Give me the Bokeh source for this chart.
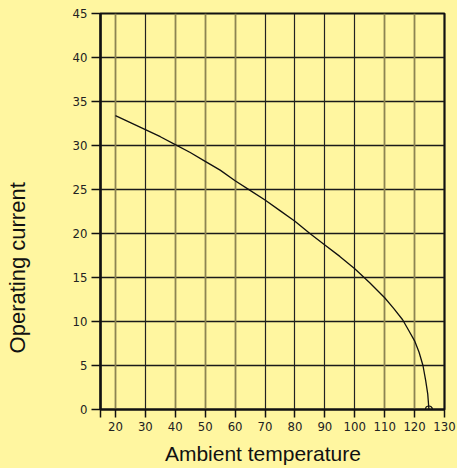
from bokeh.plotting import figure
from bokeh.models import FixedTicker, Grid, Label, Range1d
from bokeh.embed import file_html
from bokeh.resources import INLINE

# ---- data ----
temperature = [20, 25, 30, 35, 40, 45, 50, 55, 60, 65, 70, 75, 80, 85, 90, 95,
               100, 105, 110, 113, 116, 118, 120, 121.5, 122.8, 123.7, 124.4, 124.8]
current = [33.4, 32.6, 31.8, 31.0, 30.1, 29.2, 28.2, 27.2, 26.0, 24.9, 23.8,
           22.6, 21.4, 20.0, 18.7, 17.4, 16.0, 14.4, 12.7, 11.5, 10.2, 9.0,
           7.8, 6.5, 5.0, 3.3, 1.75, 0.0]
x_ticks = [15, 20, 30, 40, 50, 60, 70, 80, 90, 100, 110, 120, 130]
y_ticks = [0, 5, 10, 15, 20, 25, 30, 35, 40, 45]
x_grid_dark = [30, 70, 80, 90, 100]
x_grid_light = [20, 40, 50, 60, 110, 120]
y_grid = [5, 10, 15, 20, 25, 30, 35, 40]
x_title = "Ambient temperature"
y_title = "Operating current"

BG = "#FFF6A0"
TICK_FONT = "'DejaVu Sans Condensed', 'Liberation Sans Narrow', sans-serif"

p = figure(width=457, height=468, output_backend="svg", toolbar_location=None,
           x_range=Range1d(15, 130), y_range=Range1d(0, 45),
           background_fill_color=BG, border_fill_color=BG,
           min_border_left=100, min_border_right=13,
           min_border_top=13, min_border_bottom=59)
p.outline_line_color = "#111111"
p.outline_line_width = 2.2
p.grid.visible = False

for ax, ticks in ((p.xaxis, x_ticks), (p.yaxis, y_ticks)):
    ax.ticker = FixedTicker(ticks=ticks)
    ax.minor_tick_line_color = None
    ax.major_tick_in = 0
    ax.axis_line_width = 2.2
    ax.axis_line_color = "#111111"
    ax.major_tick_line_width = 1.5
    ax.major_tick_line_color = "#111111"
    ax.major_label_text_font = TICK_FONT
    ax.major_label_text_font_size = "13px"
    ax.major_label_text_color = "#222222"
p.xaxis.major_tick_out = 8
p.yaxis.major_tick_out = 9
p.xaxis.major_label_standoff = 4
p.yaxis.major_label_standoff = 4
p.xaxis.major_label_overrides = {15: ""}

p.add_layout(Grid(dimension=1, ticker=FixedTicker(ticks=y_grid),
                  grid_line_color="#1a1a1a", grid_line_width=1.5))
p.add_layout(Grid(dimension=0, ticker=FixedTicker(ticks=x_grid_dark),
                  grid_line_color="#222222", grid_line_width=1.2))
p.add_layout(Grid(dimension=0, ticker=FixedTicker(ticks=x_grid_light),
                  grid_line_color="#8C8452", grid_line_width=1.8))

p.line(temperature, current, line_color="#111111", line_width=1.3)
p.scatter([temperature[-1]], [current[-1]], marker="circle", size=7,
          fill_color=None, line_color="#111111", line_width=1.2)

p.add_layout(Label(x=69.3, y=-5.03, text=x_title, text_align="center",
                   text_baseline="alphabetic", text_font="Liberation Sans",
                   text_font_size="21px", text_color="#111111"), "below")
p.add_layout(Label(x=-12.8, y=16.1, text=y_title, angle=1.5707963,
                   text_align="center", text_baseline="alphabetic",
                   text_font="Liberation Sans",
                   text_font_size="22px", text_color="#111111"), "left")

html = file_html(p, INLINE)
html = html.replace("<head>", "<head><style>html, body { background: %s; }</style>" % BG, 1)
open("out.html", "w").write(html)
